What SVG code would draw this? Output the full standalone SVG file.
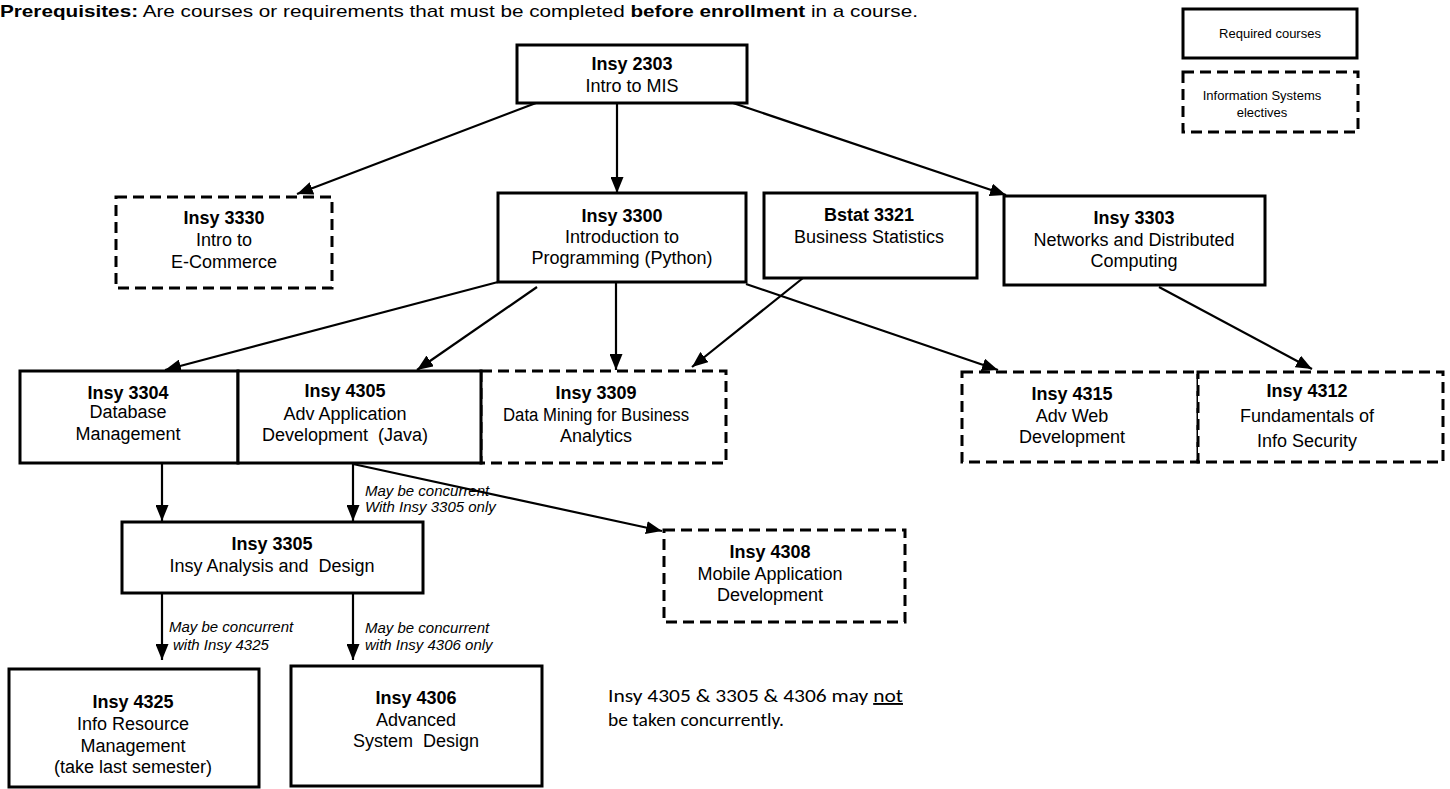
<svg xmlns="http://www.w3.org/2000/svg" width="1450" height="789" viewBox="0 0 1450 789">
<defs>
<style>
.box{fill:#fff;stroke:#000;stroke-width:3}
.dash{stroke-dasharray:11 6}
.t{font-family:"Liberation Sans",Arial,sans-serif;font-size:18px;text-anchor:middle;fill:#000}
.b{font-weight:bold}
.lg{font-family:"Liberation Sans",Arial,sans-serif;font-size:13px;text-anchor:middle;fill:#000}
.lbl{font-family:"Liberation Sans",Arial,sans-serif;font-size:15px;font-style:italic;fill:#000}
.note{font-family:Carlito,Lato,"Open Sans",sans-serif;font-size:19px;fill:#000}
.conn line{stroke:#000;stroke-width:2.2;marker-end:url(#arr)}
</style>
<marker id="arr" viewBox="0 0 16 13" refX="16" refY="6.5" markerWidth="16" markerHeight="13" markerUnits="userSpaceOnUse" orient="auto">
<path d="M0,0 L16,6.5 L0,13 z" fill="#000"/>
</marker>
</defs>
<rect x="0" y="0" width="1450" height="789" fill="#fff"/>

<g id="header">
<text x="0" y="17" font-family="Liberation Sans, Arial, sans-serif" font-size="17" textLength="918" lengthAdjust="spacingAndGlyphs"><tspan font-weight="bold">Prerequisites:</tspan>  Are courses or requirements that must be completed <tspan font-weight="bold">before enrollment</tspan> in a course.</text>
</g>

<g id="legend-required">
<rect class="box" x="1183" y="9" width="174" height="49"/>
<text class="lg" x="1270" y="38">Required courses</text>
</g>
<g id="legend-electives">
<rect class="box dash" x="1183" y="72" width="175" height="60"/>
<text class="lg" x="1262" y="100">Information Systems</text>
<text class="lg" x="1262" y="117">electives</text>
</g>

<g id="connectors" class="conn">
<line x1="536" y1="103" x2="297" y2="194"/>
<line x1="617" y1="103" x2="617" y2="193"/>
<line x1="733" y1="103" x2="1006" y2="195"/>
<line x1="498" y1="282" x2="165" y2="370"/>
<line x1="537" y1="287" x2="417" y2="370"/>
<line x1="616" y1="282" x2="616" y2="370"/>
<line x1="803" y1="278" x2="692" y2="367"/>
<line x1="746" y1="284" x2="998" y2="370"/>
<line x1="1159" y1="287" x2="1312" y2="369"/>
<line x1="162" y1="463" x2="162" y2="521"/>
<line x1="353" y1="463" x2="353" y2="521"/>
<line x1="353" y1="464" x2="662" y2="531"/>
<line x1="162" y1="593" x2="162" y2="660"/>
<line x1="353" y1="593" x2="353" y2="660"/>
</g>

<g id="labels">
<text class="lbl" x="365" y="496">May be concurrent</text>
<text class="lbl" x="365" y="512">With Insy 3305 only</text>
<text class="lbl" x="169" y="632">May be concurrent</text>
<text class="lbl" x="173" y="650">with Insy 4325</text>
<text class="lbl" x="365" y="633">May be concurrent</text>
<text class="lbl" x="365" y="650">with Insy 4306 only</text>
</g>

<g id="insy3330">
<rect class="box dash" x="116" y="197" width="216" height="91"/>
<text class="t b" x="224" y="224">Insy 3330</text>
<text class="t" x="224" y="246">Intro to</text>
<text class="t" x="224" y="268">E-Commerce</text>
</g>

<g id="insy3309">
<rect class="box dash" x="481" y="371" width="245" height="92"/>
<text class="t b" x="596" y="399">Insy 3309</text>
<text class="t" x="596" y="421" textLength="186" lengthAdjust="spacingAndGlyphs">Data Mining for Business</text>
<text class="t" x="596" y="442">Analytics</text>
</g>

<g id="insy4315">
<rect class="box dash" x="962" y="372" width="236" height="90"/>
<text class="t b" x="1072" y="400">Insy 4315</text>
<text class="t" x="1072" y="422">Adv Web</text>
<text class="t" x="1072" y="443">Development</text>
</g>

<g id="insy4312">
<rect class="box dash" x="1198" y="372" width="245" height="90"/>
<text class="t b" x="1307" y="397">Insy 4312</text>
<text class="t" x="1307" y="422">Fundamentals of</text>
<text class="t" x="1307" y="447">Info Security</text>
</g>

<g id="insy4308">
<rect class="box dash" x="664" y="530" width="241" height="92"/>
<text class="t b" x="770" y="558">Insy 4308</text>
<text class="t" x="770" y="580">Mobile Application</text>
<text class="t" x="770" y="601">Development</text>
</g>

<g id="insy2303">
<rect class="box" x="517" y="45" width="230" height="58"/>
<text class="t b" x="632" y="70">Insy 2303</text>
<text class="t" x="632" y="92">Intro to MIS</text>
</g>

<g id="insy3300">
<rect class="box" x="498" y="193" width="248" height="89"/>
<text class="t b" x="622" y="222">Insy 3300</text>
<text class="t" x="622" y="243">Introduction to</text>
<text class="t" x="622" y="264">Programming (Python)</text>
</g>

<g id="bstat3321">
<rect class="box" x="764" y="193" width="213" height="85"/>
<text class="t b" x="869" y="221">Bstat 3321</text>
<text class="t" x="869" y="243">Business Statistics</text>
</g>

<g id="insy3303">
<rect class="box" x="1004" y="196" width="261" height="89"/>
<text class="t b" x="1134" y="224">Insy 3303</text>
<text class="t" x="1134" y="246">Networks and Distributed</text>
<text class="t" x="1134" y="267">Computing</text>
</g>

<g id="insy3304">
<rect class="box" x="20" y="371" width="218" height="92"/>
<text class="t b" x="128" y="399">Insy 3304</text>
<text class="t" x="128" y="418">Database</text>
<text class="t" x="128" y="440">Management</text>
</g>

<g id="insy4305">
<rect class="box" x="238" y="371" width="243" height="92"/>
<text class="t b" x="345" y="397">Insy 4305</text>
<text class="t" x="345" y="420">Adv Application</text>
<text class="t" x="345" y="441" xml:space="preserve">Development  (Java)</text>
</g>

<g id="insy3305">
<rect class="box" x="122" y="522" width="301" height="71"/>
<text class="t b" x="272" y="550">Insy 3305</text>
<text class="t" x="272" y="572" xml:space="preserve">Insy Analysis and  Design</text>
</g>

<g id="insy4325">
<rect class="box" x="9" y="669" width="250" height="118"/>
<text class="t b" x="133" y="708">Insy 4325</text>
<text class="t" x="133" y="730">Info Resource</text>
<text class="t" x="133" y="752">Management</text>
<text class="t" x="133" y="773">(take last semester)</text>
</g>

<g id="insy4306">
<rect class="box" x="291" y="666" width="251" height="120"/>
<text class="t b" x="416" y="704">Insy 4306</text>
<text class="t" x="416" y="726">Advanced</text>
<text class="t" x="416" y="747" xml:space="preserve">System  Design</text>
</g>

<g id="note">
<text class="note" x="608" y="702" textLength="295" lengthAdjust="spacingAndGlyphs">Insy 4305 &amp; 3305 &amp; 4306 may <tspan text-decoration="underline">not</tspan></text>
<text class="note" x="608" y="726" textLength="176" lengthAdjust="spacingAndGlyphs">be taken concurrently.</text>
</g>
</svg>
